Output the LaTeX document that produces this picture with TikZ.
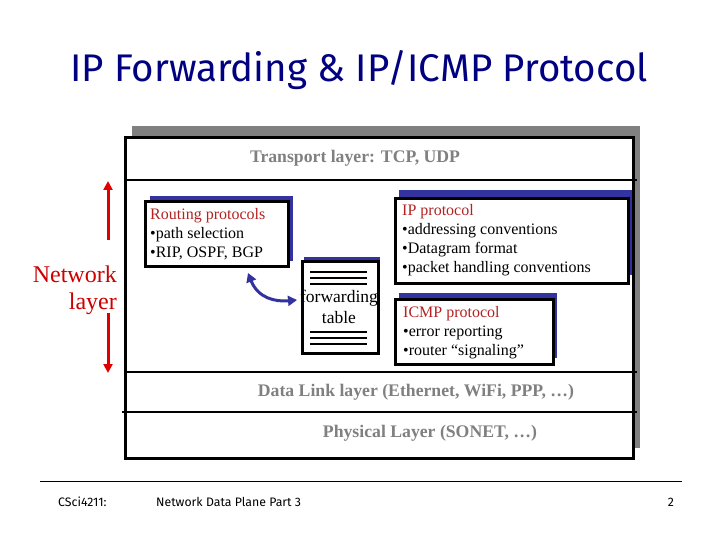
\documentclass[tikz,border=0pt]{standalone}
\usepackage{fontspec}
\setmainfont{Liberation Serif}
\newfontfamily\titlefont{Fira Sans}
\usetikzlibrary{arrows.meta}
\definecolor{navy}{RGB}{0,0,128}
\definecolor{shblue}{RGB}{51,51,160}
\definecolor{darkred}{RGB}{178,34,34}
\definecolor{netred}{RGB}{204,0,0}
\definecolor{arrred}{RGB}{224,0,0}
\definecolor{graytxt}{RGB}{128,128,128}
\tikzset{
  boxframe/.style={draw=black, line width=2.8pt, fill=white},
  blueshadow/.style={fill=shblue, draw=none},
  graylabel/.style={text=graytxt, font=\fontsize{17.7}{20}\selectfont\bfseries, inner sep=0pt},
  boxtext/.style={align=left, anchor=north west, inner sep=0pt, font=\fontsize{16}{19}\selectfont},
  sepline/.style={line width=2.5pt},
  footer/.style={font=\titlefont\fontsize{12.3}{14}\selectfont, inner sep=0pt}
}
\begin{document}
\begin{tikzpicture}[x=1pt,y=-1pt]
\useasboundingbox (0,0) rectangle (720,540);
% title
\node[text=navy, font=\titlefont\fontsize{38.5}{42}\selectfont, inner sep=0pt] (title) at (359,70) {IP Forwarding \& IP/ICMP Protocol};

% main layered box
\fill[graytxt] (132,126) rectangle (640,448);
\node[boxframe, minimum width=508pt, minimum height=321pt, anchor=north west, inner sep=0pt] (stack) at (124,136) {};
\draw[sepline] (125,180) -- (637,180);
\draw[sepline] (125,372) -- (637,372);
\draw[sepline] (122,412) -- (637,412);
\node[graylabel] (transport) at (355,158) {Transport layer: TCP, UDP};
\node[graylabel] (datalink) at (416,392) {Data Link layer (Ethernet, WiFi, PPP, \dots)};
\node[graylabel] (physical) at (430,433) {Physical Layer (SONET, \dots)};

% routing box
\fill[blueshadow] (150,196) rectangle (293,261);
\node[boxframe, minimum width=143pt, minimum height=65pt, anchor=north west, inner sep=0pt] (routing) at (144,200) {};
\node[boxtext] (routingtxt) at (150,208) {\textcolor{darkred}{Routing protocols}\\ \textbullet path selection\\ \textbullet RIP, OSPF, BGP};

% IP protocol box
\fill[blueshadow] (399,190) rectangle (632,275);
\node[boxframe, minimum width=233pt, minimum height=85pt, anchor=north west, inner sep=0pt] (ipbox) at (394,197) {};
\node[boxtext] (iptxt) at (402,204) {\textcolor{darkred}{IP protocol}\\ \textbullet addressing conventions\\ \textbullet Datagram format\\ \textbullet packet handling conventions};

% ICMP box
\fill[blueshadow] (399,293) rectangle (557,358);
\node[boxframe, minimum width=158pt, minimum height=65pt, anchor=north west, inner sep=0pt] (icmpbox) at (394,298) {};
\node[boxtext] (icmptxt) at (403,306) {\textcolor{darkred}{ICMP protocol}\\ \textbullet error reporting\\ \textbullet router ``signaling''};

% forwarding table
\fill[blueshadow] (304,257) rectangle (380,349);
\node[boxframe, minimum width=76pt, minimum height=92pt, anchor=north west, inner sep=0pt] (fwd) at (301,260) {};
\foreach \yy in {272,278,284,332,338,344}
  \draw[line width=2pt] (310,\yy) -- (367,\yy);
\node[inner sep=0pt, align=center, font=\fontsize{17.5}{21}\selectfont] (fwdtxt) at (339,307) {forwarding\\table};

% curved blue arrow
\coordinate (ca) at (248,273);
\coordinate (cb) at (297,300);
\draw[shblue, line width=3pt, {Triangle[length=9pt,width=10pt]}-{Triangle[length=9pt,width=10pt]}] (ca) .. controls (258,298) and (275,302) .. (cb);

% network layer
\node[text=netred, align=right, anchor=east, inner sep=0pt, font=\fontsize{24}{27}\selectfont] (netlayer) at (117,290) {Network\\layer};
\coordinate (nu1) at (108,240);
\coordinate (nu2) at (108,181);
\coordinate (nd1) at (108,313);
\coordinate (nd2) at (108,373);
\draw[arrred, line width=3pt, -{Triangle[length=9pt,width=9pt]}] (nu1) -- (nu2);
\draw[arrred, line width=3pt, -{Triangle[length=9pt,width=9pt]}] (nd1) -- (nd2);

% footer
\coordinate (fl) at (40,481);
\coordinate (fr) at (682,481);
\draw[line width=1pt] (fl) -- (fr);
\node[footer, anchor=west] (course) at (58,502) {CSci4211:};
\node[footer, anchor=west] (deck) at (156,502) {Network Data Plane Part 3};
\node[footer] (page) at (671,502) {2};
\end{tikzpicture}
\end{document}
